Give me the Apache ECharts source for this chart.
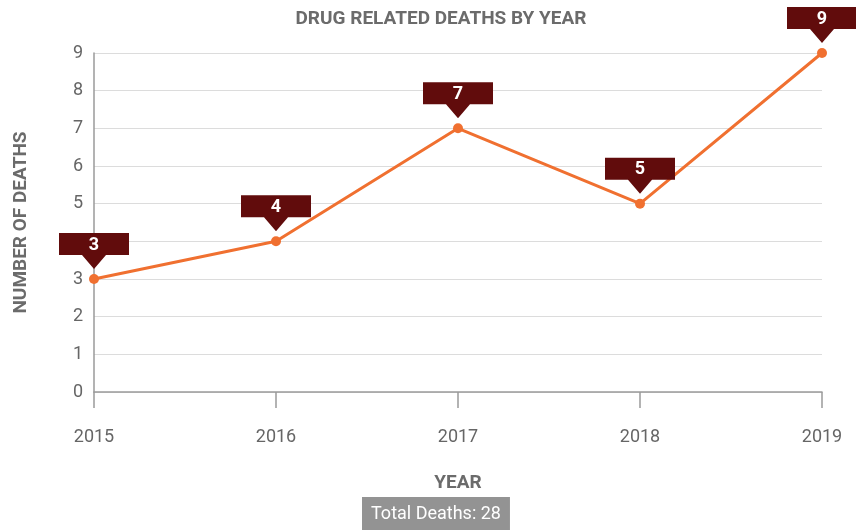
<!DOCTYPE html>
<html>
<head>
<meta charset="utf-8">
<script src="https://cdn.jsdelivr.net/npm/echarts@6/dist/echarts.min.js"></script>
<style>
  html, body { margin: 0; padding: 0; background: #fff; }
  #chart { width: 856px; height: 531px; }
</style>
</head>
<body>
<div id="chart"></div>
<script>
// Yearly drug related deaths
const years = ['2015', '2016', '2017', '2018', '2019'];
const deaths = [3, 4, 7, 5, 9];
const yTicks = [0, 1, 2, 3, 4, 5, 6, 7, 8, 9];

const total = deaths.reduce((a, b) => a + b, 0);

// Callout box with a downward pointer
const calloutPath = 'path://M0,0L70,0L70,22L47,22L35,36L23,22L0,22Z';

const chart = echarts.init(document.getElementById('chart'), null, { renderer: 'canvas' });

chart.setOption({
  animation: false,
  backgroundColor: '#ffffff',
  textStyle: { fontFamily: 'Roboto, "Noto Sans", sans-serif' },
  title: {
    text: 'DRUG RELATED DEATHS BY YEAR',
    left: 436,
    textAlign: 'center',
    top: 5,
    textStyle: { fontSize: 19, fontWeight: 'bold', color: '#6b6b6b', fontFamily: 'Roboto' }
  },
  grid: { left: 94, right: 34, top: 53, bottom: 139 },
  xAxis: {
    type: 'category',
    data: years,
    boundaryGap: false,
    name: 'YEAR',
    nameLocation: 'middle',
    nameGap: 82,
    nameTextStyle: { fontSize: 19, fontWeight: 'bold', color: '#6b6b6b' },
    axisLine: { lineStyle: { color: '#9a9a9a', width: 1.5 } },
    axisTick: { show: true, length: 16, lineStyle: { color: '#9a9a9a', width: 1.5 } },
    axisLabel: { margin: 36, fontSize: 18, color: '#666' },
    splitLine: { show: false }
  },
  yAxis: {
    type: 'value',
    min: yTicks[0],
    max: yTicks[yTicks.length - 1],
    interval: 1,
    name: 'NUMBER OF DEATHS',
    nameLocation: 'middle',
    nameGap: 63,
    nameTextStyle: { fontSize: 19, fontWeight: 'bold', color: '#6b6b6b' },
    axisLine: { show: true, lineStyle: { color: '#9a9a9a', width: 1.5 } },
    axisTick: { show: false },
    axisLabel: { margin: 11, fontSize: 18, color: '#666' },
    splitLine: { lineStyle: { color: '#dcdcdc', width: 1 } }
  },
  series: [{
    type: 'line',
    data: deaths,
    symbol: 'circle',
    symbolSize: 10,
    lineStyle: { color: '#f07030', width: 3 },
    itemStyle: { color: '#f07030' },
    z: 3,
    markPoint: {
      symbol: calloutPath,
      symbolSize: [70, 36],
      symbolOffset: [0, -28],
      itemStyle: { color: '#610c0c' },
      label: {
        show: true,
        position: 'inside',
        offset: [0, -6],
        color: '#fff',
        fontSize: 18,
        fontWeight: 'bold',
        formatter: p => p.value
      },
      data: years.map((y, i) => ({ coord: [y, deaths[i]], value: deaths[i] }))
    }
  }],
  graphic: [{
    type: 'text',
    left: 362,
    top: 497,
    style: {
      text: 'Total Deaths: ' + total,
      fill: '#fff',
      fontSize: 18,
      lineHeight: 20,
      fontFamily: 'Roboto',
      backgroundColor: '#939393',
      padding: [7, 9, 6, 9]
    }
  }]
});
</script>
</body>
</html>
